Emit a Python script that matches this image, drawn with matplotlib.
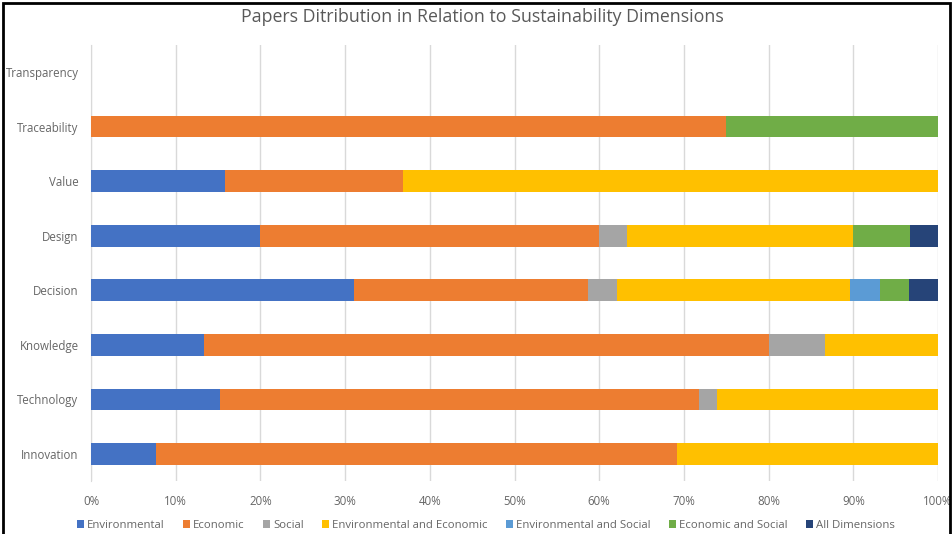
import numpy as np
import matplotlib
matplotlib.use("Agg")
import matplotlib.pyplot as plt
from matplotlib.patches import Rectangle

plt.rcParams['font.family'] = ['Open Sans', 'DejaVu Sans']

# paper counts per dimension, bottom row first
dimensions = ['Innovation', 'Technology', 'Knowledge', 'Decision',
              'Design', 'Value', 'Traceability', 'Transparency']
series = ['Environmental', 'Economic', 'Social', 'Environmental and Economic',
          'Environmental and Social', 'Economic and Social', 'All Dimensions']
environmental = [1, 7, 2, 9, 6, 3, 0, 0]
economic = [8, 26, 10, 8, 12, 4, 3, 0]
social = [0, 1, 1, 1, 1, 0, 0, 0]
env_econ = [4, 12, 2, 8, 8, 12, 0, 0]
env_social = [0, 0, 0, 1, 0, 0, 0, 0]
econ_social = [0, 0, 0, 1, 2, 0, 1, 0]
all_dims = [0, 0, 0, 1, 1, 0, 0, 0]
colors = ['#4472C4', '#ED7D31', '#A5A5A5', '#FFC000', '#5B9BD5', '#70AD47', '#264478']
xticks = [0, 10, 20, 30, 40, 50, 60, 70, 80, 90, 100]

counts = np.array([environmental, economic, social, env_econ,
                   env_social, econ_social, all_dims], dtype=float)
totals = counts.sum(axis=0)
share = np.divide(counts * 100, totals, out=np.zeros_like(counts), where=totals > 0)

fig = plt.figure(figsize=(9.53, 5.34), dpi=100)
ax = fig.add_axes([0.0955, 0.0987, 0.8888, 0.8176])

y = np.arange(len(dimensions))
left = np.zeros(len(dimensions))
for i, name in enumerate(series):
    ax.barh(y, share[i], left=left, height=0.4, color=colors[i], label=name, zorder=3)
    left += share[i]

ax.set_xlim(0, 100)
ax.set_ylim(-0.5, len(dimensions) - 0.5)
ax.set_xticks(xticks)
ax.set_xticklabels([f'{t}%' for t in xticks])
ax.set_yticks(y)
ax.set_yticklabels(dimensions)
ax.tick_params(axis='both', length=0, labelsize=8.3, labelcolor='#666666')
ax.tick_params(axis='x', pad=10)
ax.tick_params(axis='y', pad=9)
ax.grid(axis='x', color='#D9D9D9', linewidth=1, zorder=0)
for side in ['top', 'right', 'bottom']:
    ax.spines[side].set_visible(False)
ax.spines['left'].set_color('#D9D9D9')

fig.suptitle('Papers Ditribution in Relation to Sustainability Dimensions',
             x=0.506, y=0.985, fontsize=12.8, color='#595959')

fig.legend(loc='center', bbox_to_anchor=(0.51, 0.016), ncol=7, frameon=False,
           fontsize=8.2, handlelength=0.6, handleheight=0.6, handletextpad=0.3,
           columnspacing=1.6, labelcolor='#666666')

# outer frame of the chart box
fig.patches.append(Rectangle((0.003, -0.01), 0.994, 1.005, transform=fig.transFigure,
                             fill=False, edgecolor='black', linewidth=2))

fig.savefig('out.png', dpi=100)
